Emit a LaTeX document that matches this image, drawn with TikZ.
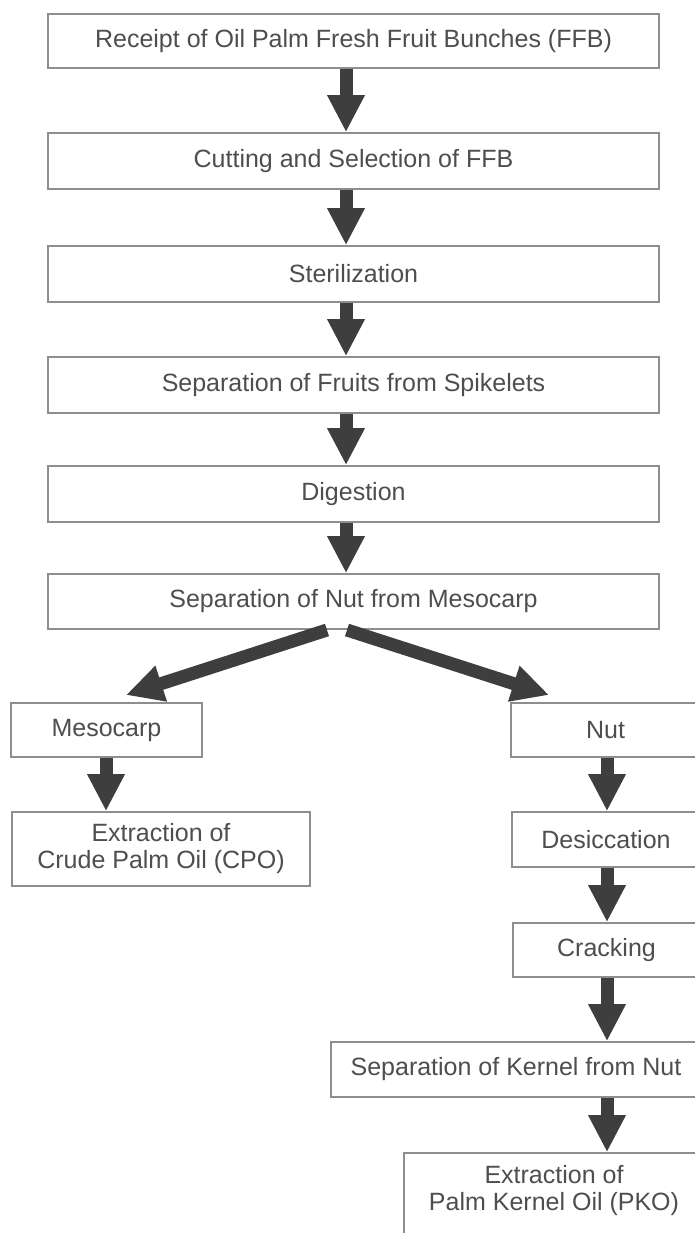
\documentclass[tikz,border=0pt]{standalone}
\usepackage{fontspec}
\setmainfont{Liberation Sans}
\usetikzlibrary{arrows.meta,calc}
\definecolor{boxline}{HTML}{8E8E8E}
\definecolor{txt}{HTML}{4E4E4E}
\definecolor{arr}{HTML}{3E3E3E}
\begin{document}
\begin{tikzpicture}[x=1pt,y=-1pt,
  stepbox/.style={draw=boxline,line width=1.6pt,fill=white,text=txt,inner sep=0pt,
    font=\fontsize{25}{27}\selectfont,align=center},
  bigarrow/.style={draw=arr,line width=13pt,-{Triangle[width=35pt,length=37pt]}}]
\useasboundingbox (0,0) rectangle (695,1233);
\fill[white] (0,0) rectangle (695,1233);
% main column boxes
\node[stepbox,minimum width=611pt,minimum height=54pt] (b1) at (353.5,41) {Receipt of Oil Palm Fresh Fruit Bunches (FFB)};
\node[stepbox,minimum width=611pt,minimum height=56pt] (b2) at (353.5,161) {Cutting and Selection of FFB};
\node[stepbox,minimum width=611pt,minimum height=56pt] (b3) at (353.5,274) {Sterilization};
\node[stepbox,minimum width=611pt,minimum height=56pt] (b4) at (353.5,385) {Separation of Fruits from Spikelets};
\node[stepbox,minimum width=611pt,minimum height=56pt] (b5) at (353.5,494) {Digestion};
\node[stepbox,minimum width=611pt,minimum height=55pt] (b6) at (353.5,601.5) {Separation of Nut from Mesocarp};
% branches
\node[stepbox,minimum width=191pt,minimum height=54pt] (meso) at (106.5,730) {Mesocarp};
\node[stepbox,minimum width=189pt,minimum height=54pt] (nut) at (605.5,730) {Nut};
\node[stepbox,minimum width=298pt,minimum height=74pt] (cpo) at (161,849) {Extraction of\\Crude Palm Oil (CPO)};
\node[stepbox,minimum width=188pt,minimum height=55pt] (des) at (606,839.5) {Desiccation};
\node[stepbox,minimum width=187pt,minimum height=54pt] (crack) at (606.5,950) {Cracking};
\node[stepbox,minimum width=370pt,minimum height=55pt] (kern) at (516,1069.5) {Separation of Kernel from Nut};
\node[stepbox,minimum width=300pt,minimum height=92pt] (pko) at (554,1199) {};
\node[text=txt,font=\fontsize{25}{27}\selectfont,align=center] (pkot) at (554,1191) {Extraction of\\Palm Kernel Oil (PKO)};
% arrow axes
\coordinate (ax) at (346,0);
\coordinate (lx) at (106,0);
\coordinate (rx) at (607,0);
\draw[bigarrow] (b1.south -| ax) -- (b2.north -| ax);
\draw[bigarrow] (b2.south -| ax) -- (b3.north -| ax);
\draw[bigarrow] (b3.south -| ax) -- (b4.north -| ax);
\draw[bigarrow] (b4.south -| ax) -- (b5.north -| ax);
\draw[bigarrow] (b5.south -| ax) -- (b6.north -| ax);
\coordinate (sl) at (327,630);
\coordinate (sr) at (347,630);
\coordinate (tl) at (126,695);
\coordinate (tr) at (549,695);
\draw[bigarrow] (sl) -- (tl);
\draw[bigarrow] (sr) -- (tr);
\draw[bigarrow] (meso.south -| lx) -- (cpo.north -| lx);
\draw[bigarrow] (nut.south -| rx) -- (des.north -| rx);
\draw[bigarrow] (des.south -| rx) -- (crack.north -| rx);
\draw[bigarrow] (crack.south -| rx) -- (kern.north -| rx);
\draw[bigarrow] (kern.south -| rx) -- (pko.north -| rx);
\end{tikzpicture}
\end{document}
